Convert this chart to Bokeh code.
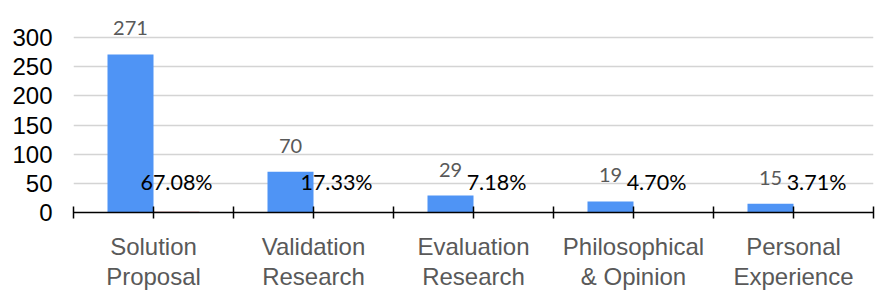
from bokeh.plotting import figure
from bokeh.models import FixedTicker, LinearAxis, Range1d, ColumnDataSource
from bokeh.embed import file_html
from bokeh.resources import INLINE
from bokeh.core.properties import value

categories_line1 = ["Solution", "Validation", "Evaluation", "Philosophical", "Personal"]
categories_line2 = ["Proposal", "Research", "Research", "& Opinion", "Experience"]
counts = [271, 70, 29, 19, 15]
percents = [67.08, 17.33, 7.18, 4.70, 3.71]
count_labels = ["271", "70", "29", "19", "15"]
percent_labels = ["67.08%", "17.33%", "7.18%", "4.70%", "3.71%"]
y_ticks = [0, 50, 100, 150, 200, 250, 300]

n = len(counts)
blue_x = [2 * i + 0.7125 for i in range(n)]
red_x = [2 * i + 1.2875 for i in range(n)]

p = figure(width=883, height=301, output_backend="svg", toolbar_location=None,
           x_range=Range1d(0, 10), y_range=Range1d(0, 330.9),
           frame_width=800, frame_height=193,
           min_border_left=73, min_border_right=10, min_border_top=19, min_border_bottom=10)
p.outline_line_color = None
p.background_fill_color = "white"
p.border_fill_color = "white"

src_b = ColumnDataSource(dict(x=blue_x, top=counts, lab=count_labels))
src_r = ColumnDataSource(dict(x=red_x, top=[v / 100 for v in percents], lab=percent_labels))

p.vbar(x="x", top="top", width=0.575, source=src_b, fill_color="#4F94F5", line_color=None)
p.vbar(x="x", top="top", width=0.575, source=src_r, fill_color="#8B1A1A", line_color="#8B1A1A", line_width=0.6)

p.text(x="x", y="top", text="lab", source=src_b, text_align="center", text_baseline="bottom",
       y_offset=-19, text_font=value("Lato"), text_font_size="20px", text_color="#595959")
p.text(x="x", y="top", text="lab", source=src_r, text_align="center", text_baseline="bottom",
       y_offset=-17, text_font=value("Lato"), text_font_size="21.5px", text_color="#000000")

# y axis
p.yaxis.ticker = FixedTicker(ticks=y_ticks)
p.yaxis.axis_line_color = None
p.yaxis.major_tick_line_color = None
p.yaxis.minor_tick_line_color = None
p.yaxis.major_tick_in = 0
p.yaxis.major_tick_out = 0
p.yaxis.major_label_standoff = 21
p.yaxis.major_label_text_font = "Liberation Sans"
p.yaxis.major_label_text_font_size = "24px"
p.yaxis.major_label_text_color = "#000000"

p.ygrid.ticker = FixedTicker(ticks=y_ticks)
p.ygrid.grid_line_color = "#d4d4d4"
p.ygrid.grid_line_width = 1.5
p.xgrid.grid_line_color = None

xt = list(range(0, 11))
ov1 = {}
ov2 = {}
for t in xt:
    ov1[t] = ""
    ov2[t] = ""
for i in range(n):
    ov1[2 * i + 1] = categories_line1[i]
    ov2[2 * i + 1] = categories_line2[i]

xa = p.xaxis[0]
xa.ticker = FixedTicker(ticks=xt)
xa.major_label_overrides = ov1
xa.axis_line_color = "#000000"
xa.axis_line_width = 1.5
xa.major_tick_line_color = "#000000"
xa.major_tick_line_width = 1.5
xa.major_tick_in = 6
xa.major_tick_out = 6
xa.minor_tick_line_color = None
xa.major_label_standoff = 14
xa.major_label_text_font = "Liberation Sans"
xa.major_label_text_font_size = "24px"
xa.major_label_text_color = "#595959"

xa2 = LinearAxis(ticker=FixedTicker(ticks=xt), major_label_overrides=ov2)
xa2.axis_line_color = None
xa2.major_tick_line_color = None
xa2.minor_tick_line_color = None
xa2.major_tick_in = 0
xa2.major_tick_out = 0
xa2.major_label_standoff = 0
xa2.major_label_text_font = "Liberation Sans"
xa2.major_label_text_font_size = "24px"
xa2.major_label_text_color = "#595959"
p.add_layout(xa2, "below")

open("out.html", "w").write(file_html(p, INLINE))
